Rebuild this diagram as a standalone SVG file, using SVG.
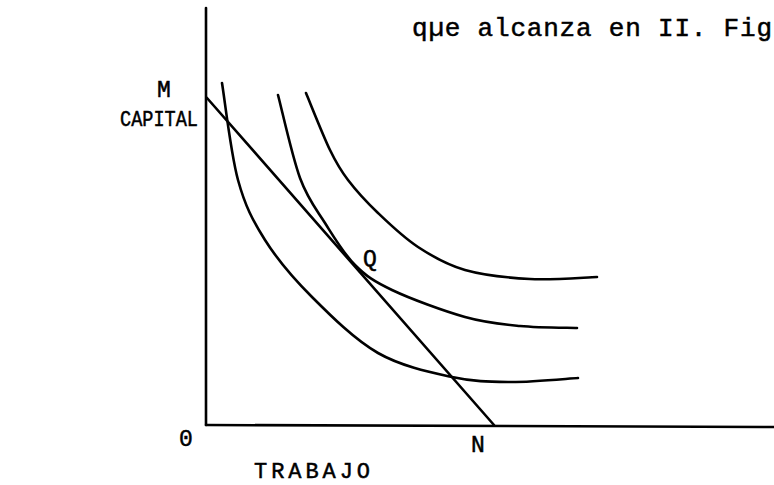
<svg xmlns="http://www.w3.org/2000/svg" width="774" height="485" viewBox="0 0 774 485">
<style>
.t{font-family:"Liberation Mono","Courier New",monospace;fill:#000;stroke:#000;stroke-width:0.5}
.c{fill:none;stroke:#000;stroke-width:2.6;stroke-linecap:round;stroke-linejoin:round}
</style>
<rect width="774" height="485" fill="#fff"/>
<g id="connectors">
<path id="axis-y" class="c" d="M206 8 L206 425"/>
<path id="axis-x" class="c" d="M206 425 L774 427"/>
<path id="budget-line" class="c" d="M207 98 L494 425"/>
<path id="curve-1" class="c" d="M222 83 C224.7 99.2 230.8 153.8 238 180 C245.2 206.2 252.7 220.5 265 240 C277.3 259.5 293.2 278.2 312 297 C330.8 315.8 354.7 339.7 378 353 C401.3 366.3 430 372.2 452 377 C474 381.8 489 381.8 510 382 C531 382.2 566.7 378.7 578 378"/>
<path id="curve-2" class="c" d="M278 95 C281.7 108.8 292.2 156.7 300 178 C307.8 199.3 315.8 208.5 325 223 C334.2 237.5 343.8 253.8 355 265 C366.2 276.2 373.7 281.3 392 290 C410.3 298.7 443.7 311 465 317 C486.3 323 501.3 324.2 520 326 C538.7 327.8 567.5 327.7 577 328"/>
<path id="curve-3" class="c" d="M306 93 C310 102.5 323 135.5 330 150 C337 164.5 340 169.5 348 180 C356 190.5 366.3 201.8 378 213 C389.7 224.2 403.5 237.5 418 247 C432.5 256.5 446.3 264.7 465 270 C483.7 275.3 508 277.8 530 279 C552 280.2 585.8 277.3 597 277"/>
</g>
<g id="labels">
<text class="t" x="412" y="36" font-size="26" textLength="360" lengthAdjust="spacing">qµe alcanza en II. Fig</text>
<text class="t" x="120" y="126" font-size="22" textLength="78" lengthAdjust="spacingAndGlyphs">CAPITAL</text>
<text class="t" x="157" y="97" font-size="23">M</text>
<text class="t" x="179" y="446" font-size="23">0</text>
<text class="t" x="471" y="452" font-size="23">N</text>
<text class="t" x="363" y="266" font-size="23">Q</text>
<text class="t" x="254" y="478" font-size="22" textLength="116" lengthAdjust="spacing">TRABAJO</text>
</g>
</svg>
